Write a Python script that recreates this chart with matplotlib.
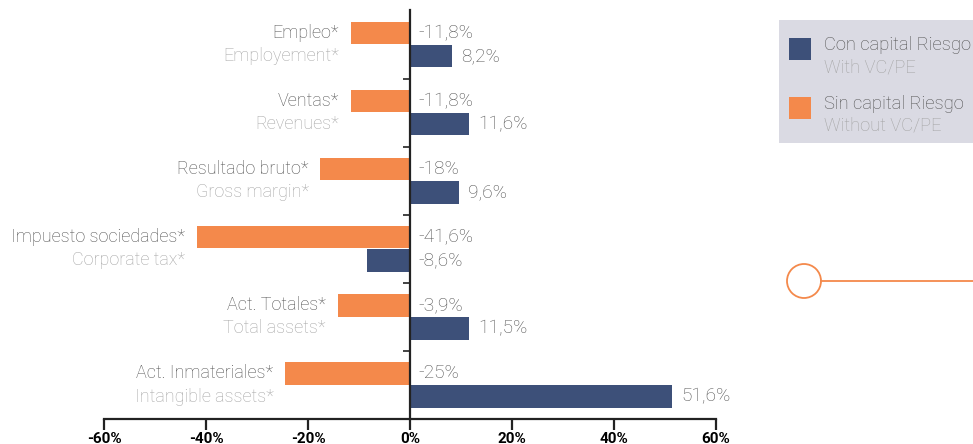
import matplotlib.pyplot as plt
import numpy as np
from matplotlib.patches import Rectangle, Ellipse
from matplotlib.lines import Line2D

# data (bar lengths as drawn, labels as printed)
labels_es = ["Empleo*", "Ventas*", "Resultado bruto*", "Impuesto sociedades*",
             "Act. Totales*", "Act. Inmateriales*"]
labels_en = ["Employement*", "Revenues*", "Gross margin*", "Corporate tax*",
             "Total assets*", "Intangible assets*"]
sin_vc = [-11.6, -11.6, -17.6, -41.8, -14.2, -24.5]
con_vc = [8.2, 11.6, 9.6, -8.4, 11.5, 51.4]
sin_txt = ["-11,8%", "-11,8%", "-18%", "-41,6%", "-3,9%", "-25%"]
con_txt = ["8,2%", "11,6%", "9,6%", "-8,6%", "11,5%", "51,6%"]
xticks = [-60, -40, -20, 0, 20, 40, 60]

ORANGE = "#F4894B"
NAVY = "#3D5079"
DARK = "#505050"
LIGHT = "#A4A4A4"

plt.rcParams["font.family"] = ["Roboto", "DejaVu Sans"]

fig = plt.figure(figsize=(9.73, 4.44), dpi=100)
ax = fig.add_axes([104 / 973, 25 / 444, 612 / 973, 408.5 / 444])

y = np.arange(len(labels_es))
h = 0.33
off = 0.17
ax.barh(y - off, sin_vc, height=h, color=ORANGE)
ax.barh(y + off, con_vc, height=h, color=NAVY)

ax.set_xlim(-60, 60)
ax.set_ylim(len(labels_es) - 0.5, -0.5)

for i in range(len(y)):
    # value labels
    ax.text(1.7, y[i] - off, sin_txt[i], va="center", ha="left",
            fontsize=13.8, color=DARK, fontweight="light")
    xv = 1.7 if con_vc[i] < 0 else con_vc[i] + 1.8
    ax.text(xv, y[i] + off, con_txt[i], va="center", ha="left",
            fontsize=13.8, color=DARK, fontweight="light")
    # category labels, right aligned next to the orange bar
    xl = sin_vc[i] - 2.3
    ax.text(xl, y[i] - off, labels_es[i], va="center", ha="right",
            fontsize=13, color=DARK, fontweight="light")
    ax.text(xl, y[i] + off, labels_en[i], va="center", ha="right",
            fontsize=13, color=LIGHT, fontweight="light")

for s in ["top", "right"]:
    ax.spines[s].set_visible(False)
ax.spines["left"].set_position(("data", 0))
ax.spines["left"].set_linewidth(1.6)
ax.spines["left"].set_color("#222222")
ax.spines["bottom"].set_linewidth(1.6)
ax.spines["bottom"].set_color("#222222")

ax.set_yticks(np.arange(0.5, len(y) - 0.5, 1))
ax.set_yticklabels([])
ax.tick_params(axis="y", length=5, width=1.2, color="#222222")
ax.set_xticks(xticks)
ax.set_xticklabels([f"{t}%" for t in xticks], fontsize=11, fontweight="bold")
ax.tick_params(axis="x", length=8, width=1.6, color="#222222", pad=1)

# legend box
fig.add_artist(Rectangle((779 / 973, (444 - 143) / 444), 194 / 973, 123 / 444,
                         transform=fig.transFigure, facecolor="#DADAE3", edgecolor="none"))
entries = [(NAVY, "Con capital Riesgo", "With VC/PE", 38),
           (ORANGE, "Sin capital Riesgo", "Without VC/PE", 97)]
for col, es, en, top in entries:
    fig.add_artist(Rectangle((789 / 973, (444 - top - 22) / 444), 22 / 973, 22 / 444,
                             transform=fig.transFigure, facecolor=col, edgecolor="none"))
    fig.text(824 / 973, (444 - top - 7) / 444, es, fontsize=13.2, color=DARK,
             va="center", ha="left", fontweight="light")
    fig.text(824 / 973, (444 - top - 29) / 444, en, fontsize=13.2, color=LIGHT,
             va="center", ha="left", fontweight="light")

# decorative circle + line
cx, cy, r = 804, 444 - 281, 17
fig.add_artist(Ellipse((cx / 973, cy / 444), 2 * r / 973, 2 * r / 444,
                       transform=fig.transFigure, facecolor="none",
                       edgecolor=ORANGE, lw=1.3))
fig.add_artist(Line2D([(cx + r) / 973, 1.0], [cy / 444, cy / 444],
                      transform=fig.transFigure, color=ORANGE, lw=1.3))

fig.savefig("out.png", dpi=100)
